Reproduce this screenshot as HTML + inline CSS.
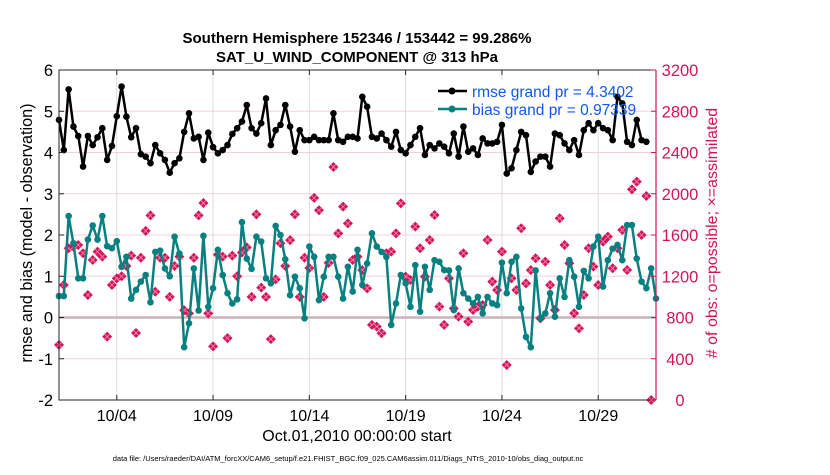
<!DOCTYPE html>
<html><head><meta charset="utf-8"><style>
body{margin:0;background:#fff;}
svg text{font-family:"Liberation Sans",Arial,sans-serif;}
</style></head><body>
<svg id="chart" width="830" height="470" viewBox="0 0 830 470" xmlns="http://www.w3.org/2000/svg">
<rect width="830" height="470" fill="#fff"/>
<g id="grid"></g>
<g id="marks"></g>
<g id="axes"></g>
<text x="357" y="43" text-anchor="middle" font-size="15" font-weight="bold">Southern Hemisphere 152346 / 153442 = 99.286%</text>
<text x="357" y="62" text-anchor="middle" font-size="15" font-weight="bold">SAT_U_WIND_COMPONENT @ 313 hPa</text>
<text transform="translate(32,233) rotate(-90)" text-anchor="middle" font-size="16.2">rmse and bias (model - observation)</text>
<text transform="translate(717,233) rotate(-90)" text-anchor="middle" font-size="16" fill="#d4145a">#  of obs: o=possible; ×=assimilated</text>
<text x="357" y="441" text-anchor="middle" font-size="16">Oct.01,2010 00:00:00 start</text>
<text x="348" y="461" text-anchor="middle" font-size="7.5">data file: /Users/raeder/DAI/ATM_forcXX/CAM6_setup/f.e21.FHIST_BGC.f09_025.CAM6assim.011/Diags_NTrS_2010-10/obs_diag_output.nc</text>
<g>
<rect x="434" y="80" width="176" height="38" fill="#fff"/>
<line x1="438" y1="91" x2="467" y2="91" stroke="#000" stroke-width="2.5"/>
<circle cx="452" cy="91" r="3.5" fill="#000"/>
<text x="472" y="97" font-size="15.5" fill="#1058f0">rmse grand pr = 4.3402</text>
<line x1="438" y1="109" x2="467" y2="109" stroke="#088080" stroke-width="2.5"/>
<circle cx="452" cy="109" r="3.5" fill="#088080"/>
<text x="472" y="115" font-size="15.5" fill="#1058f0">bias grand pr = 0.97339</text>
</g>
</svg>
<script>
const rmseVals=[4.79,4.06,5.53,4.63,4.40,3.66,4.40,4.18,4.37,4.59,3.82,4.16,4.88,5.60,4.87,4.37,4.59,3.96,3.90,3.74,4.18,3.98,3.82,3.51,3.74,3.86,4.50,4.95,4.34,4.38,3.82,4.48,4.13,3.98,4.06,4.18,4.45,4.59,4.75,5.15,4.59,4.46,4.71,5.31,4.18,4.54,4.67,5.15,4.63,4.02,4.54,4.30,4.30,4.38,4.30,4.30,4.30,4.95,
4.30,4.26,4.38,4.38,4.34,5.35,5.11,4.38,4.34,4.46,4.30,4.14,4.50,4.06,3.98,4.18,4.38,4.59,3.94,4.18,4.10,4.22,4.14,3.98,4.46,3.90,4.63,4.02,4.10,3.94,4.34,4.22,4.22,4.26,4.67,3.49,3.62,4.06,4.50,4.42,3.53,3.78,3.90,3.90,3.66,4.46,4.42,4.22,4.06,4.30,3.94,4.54,4.71,4.54,4.71,4.59,
4.54,4.30,5.35,5.19,4.26,4.18,4.79,4.30,4.26];
const biasVals=[0.52,0.52,2.46,1.80,0.95,0.95,1.89,2.23,1.89,2.46,1.73,1.68,1.85,1.23,1.47,0.46,0.67,0.87,1.03,0.37,1.59,1.62,1.19,1.00,1.96,1.55,-0.72,-0.14,1.19,0.17,1.98,0.26,0.71,1.64,1.03,0.59,0.34,0.44,2.31,1.43,1.18,1.96,1.84,0.95,0.83,2.22,2.00,1.41,0.54,0.99,0.71,-0.02,1.72,1.47,0.42,0.99,1.47,
1.47,0.99,0.46,1.23,0.63,1.64,0.79,1.31,2.04,1.72,1.59,1.47,-0.18,0.34,1.03,0.83,0.26,1.27,0.14,1.23,0.67,1.39,1.35,1.15,1.14,0.18,1.19,0.59,0.46,0.34,0.50,0.10,0.50,0.34,0.30,1.33,0.59,1.35,1.47,0.22,-0.47,-0.72,1.14,-0.02,0.10,0.59,0.02,0.95,0.50,1.39,0.99,0.26,1.13,0.95,1.72,1.96,0.75,1.39,
1.67,1.76,1.39,2.24,2.24,1.43,0.87,0.71,1.19,0.46];
const obsVals=[534,1115,1471,1487,1503,1423,1018,1358,1439,1390,614,1115,1180,1200,1300,1400,650,1380,1640,1790,1050,1380,1380,1000,1300,1390,870,840,1380,1790,1910,840,520,1410,1390,600,1400,1200,1430,1480,1000,1800,1090,1000,590,1170,1520,1300,1550,1800,1000,1380,1280,1960,1840,1000,1330,2260,
1616,1875,1713,1358,1390,1260,1083,728,711,647,1423,1439,1616,1907,1196,1164,1681,1471,1196,1552,1794,905,728,1180,889,808,1423,760,873,905,921,1552,1148,1067,1439,340,1180,1067,1665,1131,1260,1374,792,1342,1115,873,1762,1503,1326,841,695,1018,1471,1293,1115,1536,
1584,1277,1471,1649,1261,2043,2117,1600,1978,0];
const leftTicks=[-2,-1,0,1,2,3,4,5,6];
const rightTicks=[0,400,800,1200,1600,2000,2400,2800,3200];
const dateTickDays=[3,8,13,18,23,28];
const dateTickLabels=["10/04","10/09","10/14","10/19","10/24","10/29"];

const NS='http://www.w3.org/2000/svg';
const X0=59,X1=656,Y0=70,Y1=400;
const xDay=d=>X0+(X1-X0)*d/31;
const xIdx=i=>xDay(i*0.25);
const yL=v=>Y1-(Y1-Y0)*(v+2)/8;
const yR=v=>Y1-(Y1-Y0)*v/3200;
function mk(tag,attrs,parent){const e=document.createElementNS(NS,tag);for(const k in attrs)e.setAttribute(k,attrs[k]);parent.appendChild(e);return e;}
const grid=document.getElementById('grid'),marks=document.getElementById('marks'),axes=document.getElementById('axes');
leftTicks.forEach(t=>{const l=mk('line',{x1:X0,x2:X1,y1:yL(t),y2:yL(t),stroke:'#f3d0dc','stroke-width':1},grid);

});
dateTickDays.forEach(d=>{const l=mk('line',{x1:xDay(d),x2:xDay(d),y1:Y0,y2:Y1,stroke:'#dcdcdc','stroke-width':1},grid);

});
const zl=mk('line',{x1:X0,x2:X1,y1:yL(0),y2:yL(0),stroke:'#c8b4bc','stroke-width':2.5},grid);


obsVals.forEach((v,i)=>{const g=mk('g',{},marks);


const cx=xIdx(i),cy=yR(v);
mk('path',{d:`M${cx} ${cy-5}L${cx+5} ${cy}L${cx} ${cy+5}L${cx-5} ${cy}Z`,fill:'#d4145a'},g);
mk('path',{d:`M${cx-3} ${cy-3}L${cx+3} ${cy+3}M${cx-3} ${cy+3}L${cx+3} ${cy-3}`,stroke:'#f090b0','stroke-width':0.8},g);});
function series(vals,color,name){
const pts=vals.map((v,i)=>xIdx(i).toFixed(1)+','+yL(v).toFixed(1)).join(' ');
const pl=mk('polyline',{points:pts,fill:'none',stroke:color,'stroke-width':2.5,'stroke-linejoin':'round'},marks);


vals.forEach((v,i)=>{const c=mk('circle',{cx:xIdx(i),cy:yL(v),r:3.3,fill:color},marks);

});}
series(biasVals,'#088080','bias');
series(rmseVals,'#000','rmse');
const frame=mk('path',{d:`M${X1} ${Y0}L${X0} ${Y0}L${X0} ${Y1}L${X1} ${Y1}`,fill:'none',stroke:'#262626','stroke-width':1},axes);


const ra=mk('line',{x1:X1,x2:X1,y1:Y0,y2:Y1,stroke:'#d4145a','stroke-width':1.2},axes);


leftTicks.forEach(t=>{mk('line',{x1:X0,x2:X0+5,y1:yL(t),y2:yL(t),stroke:'#262626'},axes);
const tx=mk('text',{x:X0-6,y:yL(t)+6,'text-anchor':'end','font-size':16.5},axes);tx.textContent=t;

});
rightTicks.forEach(t=>{mk('line',{x1:X1-5,x2:X1,y1:yR(t),y2:yR(t),stroke:'#d4145a'},axes);
const tx=mk('text',{x:X1+24,y:yR(t)+6,'font-size':16.5,fill:'#d4145a','text-anchor':'middle'},axes);tx.textContent=t;

});
dateTickDays.forEach((d,i)=>{mk('line',{x1:xDay(d),x2:xDay(d),y1:Y1,y2:Y1-5,stroke:'#262626'},axes);
mk('line',{x1:xDay(d),x2:xDay(d),y1:Y0,y2:Y0+5,stroke:'#262626'},axes);
const tx=mk('text',{x:xDay(d),y:Y1+21,'text-anchor':'middle','font-size':16},axes);tx.textContent=dateTickLabels[i];

});
</script>
</body></html>
